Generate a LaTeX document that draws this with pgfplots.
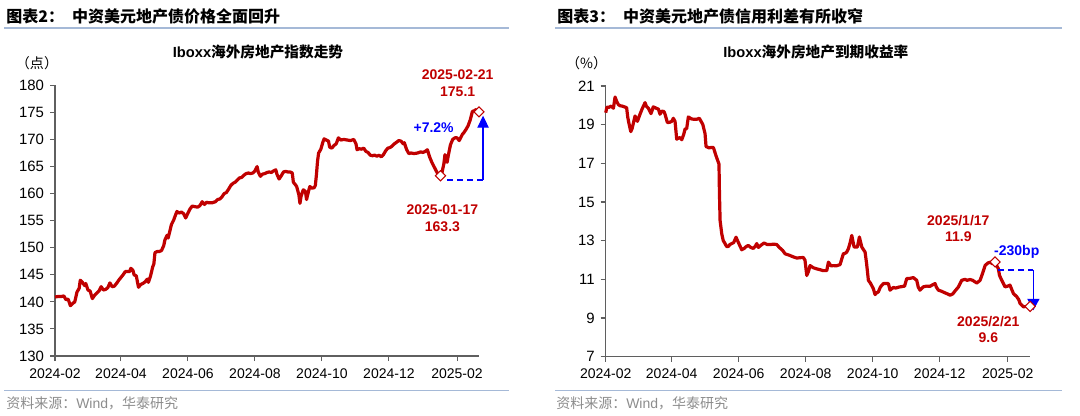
\documentclass[border=0pt]{standalone}
\usepackage{fontspec}
\setmainfont{Liberation Sans}
\newfontfamily\cjk{Noto Sans CJK SC}
\usepackage{pgfplots}
\pgfplotsset{compat=1.18}
\usetikzlibrary{arrows.meta}
\definecolor{lred}{RGB}{192,0,0}
\definecolor{hline}{RGB}{165,185,215}
\definecolor{axgray}{RGB}{95,95,95}
\definecolor{srcgray}{RGB}{140,140,140}
\definecolor{ablue}{RGB}{0,0,255}
\tikzset{alab/.style={font=\fontsize{10.5}{12.5}\selectfont\bfseries, align=center, inner sep=0pt}}
\pgfplotsset{
  /pgf/number format/assume math mode=true,
  myaxis/.style={
    width=318pt, height=203pt, scale only axis,
    anchor=south west,
    axis x line=bottom, axis y line=left,
    axis line style={axgray, line width=0.8pt, -},
    tick style={axgray, line width=0.8pt},
    tick align=outside, major tick length=3.75pt,
    xmin=0, xmax=386,
    xtick={0,60,121,182,243,304,366},
    xticklabels={2024-02,2024-04,2024-06,2024-08,2024-10,2024-12,2025-02},
    xticklabel style={font=\fontsize{10.5}{12}\selectfont, yshift=-2pt},
    yticklabel style={font=\fontsize{11.2}{13}\selectfont, xshift=-1pt},
    clip=false,
  },
  redline/.style={lred, line width=2.4pt, line join=round},
  dmark/.style={only marks, mark=square*, mark size=2.7pt, mark options={rotate=45, fill=white, draw=lred, line width=0.8pt}},
}
\begin{document}
\begin{tikzpicture}
\useasboundingbox (0,0) rectangle (810pt,311.25pt);
% ---------- left panel headers ----------
\node[anchor=west, inner sep=0pt] at (4.5pt,299.25pt) {\cjk\bfseries\fontsize{12}{14}\selectfont 图表2：\hspace{6pt}中资美元地产债价格全面回升};
\draw[hline, line width=1.1pt] (3pt,290.25pt) -- (381.75pt,290.25pt);
\node[inner sep=0pt] at (193.5pt,272.5pt) {\fontsize{11}{13}\selectfont\bfseries Iboxx{\cjk 海外房地产指数走势}};
\node[inner sep=0pt] at (27.75pt,263.5pt) {\cjk\fontsize{10.5}{12}\selectfont （点）};
\draw[hline, line width=1.1pt] (3pt,18.2pt) -- (381.75pt,18.2pt);
\node[anchor=west, inner sep=0pt, srcgray] at (4.5pt,9pt) {\fontsize{10.5}{12}\selectfont{\cjk 资料来源：}Wind{\cjk ，华泰研究}};
% ---------- right panel headers ----------
\node[anchor=west, inner sep=0pt] at (417.75pt,299.25pt) {\cjk\bfseries\fontsize{12}{14}\selectfont 图表3：\hspace{6pt}中资美元地产债信用利差有所收窄};
\draw[hline, line width=1.1pt] (416.25pt,290.25pt) -- (796.5pt,290.25pt);
\node[inner sep=0pt] at (611.9pt,272.5pt) {\fontsize{11}{13}\selectfont\bfseries Iboxx{\cjk 海外房地产到期收益率}};
\node[inner sep=0pt] at (440pt,263.5pt) {\cjk\fontsize{10.5}{12}\selectfont （\%）};
\draw[hline, line width=1.1pt] (416.25pt,18.2pt) -- (796.5pt,18.2pt);
\node[anchor=west, inner sep=0pt, srcgray] at (417pt,9pt) {\fontsize{10.5}{12}\selectfont{\cjk 资料来源：}Wind{\cjk ，华泰研究}};

% ---------- left axis ----------
\begin{axis}[myaxis, at={(41.25pt,44.25pt)},
  ymin=130, ymax=180, ytick={130,135,...,180}]
\addplot[redline] coordinates {
(0,140.9)(3,141.0)(6,141.0)(8,141.1)(10,140.4)(12,140.5)(14,139.3)(16,139.7)(18,140.0)
(20,141.8)(22,142.5)(23,144.0)(25,143.6)(27,143.0)(28,143.4)(30,142.2)(32,142.0)(34,140.6)
(36,141.2)(38,141.6)(40,142.0)(42,142.8)(44,142.2)(46,142.3)(48,142.6)(50,143.5)(52,142.8)
(54,142.9)(56,143.4)(58,144.0)(60,144.5)(62,145.0)(64,145.6)(66,145.6)(68,145.6)(69,146.2)
(71,145.8)(72,145.0)(74,144.8)(76,142.7)(78,143.2)(80,143.4)(82,143.7)(84,144.2)(85,143.6)
(87,144.8)(89,146.5)(90,147.0)(91,149.1)(93,149.3)(95,149.3)(97,149.5)(99,150.4)(100,151.4)
(102,152.3)(103,151.8)(104,152.6)(106,154.3)(108,155.1)(110,156.2)(111,156.7)(113,156.4)
(115,156.6)(117,156.3)(119,155.5)(121,156.4)(123,157.2)(125,157.7)(127,157.6)(130,157.5)
(132,157.8)(134,158.5)(136,158.0)(138,158.4)(140,158.3)(143,158.3)(146,158.5)(148,158.9)
(150,159.0)(152,159.4)(154,160.0)(156,160.2)(158,160.8)(160,161.5)(162,161.9)(164,162.1)
(166,162.5)(168,162.9)(170,163.0)(172,163.4)(174,163.7)(176,163.8)(178,163.7)(180,163.8)
(182,164.2)(184,165.0)(185,164.0)(187,163.2)(189,163.6)(191,163.7)(193,163.9)(195,164.0)
(197,163.9)(199,164.2)(201,164.4)(202,163.6)(204,162.7)(206,163.3)(208,164.0)(210,164.1)
(212,164.0)(214,164.0)(216,163.8)(217,162.1)(219,161.6)(220,161.3)(222,159.8)(223,158.2)
(224,159.5)(226,160.7)(228,160.4)(229,158.9)(231,160.6)(232,161.3)(234,161.0)(236,161.1)
(237,161.5)(238,163.5)(239,166.0)(240,167.5)(242,168.2)(244,169.6)(245,170.1)(247,169.9)
(249,169.7)(250,168.6)(252,168.4)(254,168.9)(256,169.2)(258,170.3)(260,169.9)(263,170.0)
(266,169.9)(269,169.8)(272,170.0)(274,169.2)(275,168.1)(277,168.3)(279,168.2)(281,168.4)
(283,167.8)(285,167.6)(287,167.1)(289,167.0)(291,167.1)(293,166.9)(295,167.1)(297,166.8)
(299,167.2)(301,167.9)(303,168.4)(305,168.5)(307,168.8)(309,169.2)(311,169.5)(313,169.8)
(315,169.7)(317,169.2)(318,169.4)(320,168.2)(322,167.4)(324,167.5)(327,167.4)(330,167.5)
(333,167.7)(335,167.6)(337,167.8)(339,168.1)(341,166.8)(343,165.8)(345,165.0)(347,164.2)
(349,163.5)(351,163.3)(352,163.6)(354,165.5)(355,167.2)(356,166.0)(357,165.8)(358,167.0)
(360,169.0)(362,170.0)(364,170.3)(366,170.3)(368,169.8)(369,170.2)(371,171.0)(372,171.2)
(374,171.8)(376,172.5)(378,173.6)(380,175.2)(382,175.3)(383,175.5)(384,175.2)(386,175.1)
};
\addplot[ablue, line width=1.5pt, dash pattern=on 4.5pt off 3pt] coordinates {(357.2,162.6)(389.7,162.6)};
\addplot[ablue, line width=0.9pt, -{Triangle[width=8.5pt,length=9pt]}] coordinates {(389.7,162.6)(389.7,174.4)};
\addplot[dmark] coordinates {(351,163.3)(386,175.1)};
\node[alab, lred] at (axis cs:366.6,180.4) {2025-02-21\\175.1};
\node[alab, lred] at (axis cs:352.7,155.5) {2025-01-17\\163.3};
\node[alab, ablue] at (axis cs:344.7,172.2) {+7.2\%};
\end{axis}

% ---------- right axis ----------
\begin{axis}[myaxis, at={(454.3pt,43.75pt)},
  ymin=7, ymax=21, ytick={7,9,...,21}]
\addplot[redline] coordinates {
(0,19.62)(1,19.9)(3,19.9)(5,19.96)(7,19.85)(8.5,20.43)(10,20.2)(11.5,20.04)(13,19.98)(15,19.96)
(17,19.92)(19,19.88)(20,19.4)(21,19.1)(22.8,18.64)(24,18.8)(26.7,19.45)(28.8,19.17)(31.2,19.54)
(33,19.8)(35.8,20.14)(37,19.95)(38.8,19.85)(41.2,19.57)(43.3,19.92)(46,19.85)(48,19.8)(49.4,19.54)
(51,19.7)(53,19.68)(54,19.54)(56.1,19.11)(58,19.12)(60.1,19.17)(61.5,19.33)(63.1,19.17)(64.6,18.25)
(66,18.3)(67.6,18.33)(69.2,18.22)(71,18.5)(72.2,18.77)(73.7,18.8)(75.2,19.4)(78,19.3)(80,19.28)
(82.8,19.28)(85.2,19.33)(88.3,19.02)(90.4,18.54)(91.3,17.87)(94,17.8)(96,17.82)(98,17.82)
(100.4,17.39)(103.1,16.96)(103.5,15.5)(104.1,14.04)(105.6,13.36)(107,13.0)(108.6,12.85)(110,12.7)
(111.6,12.7)(113,12.8)(114.7,12.85)(116.5,12.9)(118.6,13.18)(120,13.0)(122,12.75)(123.8,12.53)
(126,12.6)(128,12.7)(129.8,12.75)(132,12.65)(134.4,12.6)(136,12.7)(137.5,12.85)(139,12.65)
(141,12.75)(144.1,12.88)(147,12.8)(149.9,12.8)(153,12.82)(155.7,12.8)(158,12.65)(161,12.5)
(163.3,12.32)(167,12.25)(170.8,12.16)(174,12.1)(177,12.12)(179.9,12.13)(181.4,11.99)(183,11.2)
(184.5,11.4)(186,11.71)(189,11.6)(192.1,11.54)(195,11.5)(198,11.45)(201.2,11.45)(202.7,11.89)
(205,11.7)(207.2,11.71)(210,11.7)(213.3,11.76)(216.3,12.32)(218,12.35)(219.4,12.41)(221,12.6)
(222.5,12.9)(224,13.27)(226.1,12.67)(229.1,12.67)(230.9,13.19)(233.1,12.67)(236.1,12.41)
(237.5,11.8)(239.1,10.95)(241,10.8)(243.6,10.52)(245.2,10.21)(246.5,10.3)(248.2,10.35)(250,10.6)
(252.7,10.78)(255,10.78)(257.3,10.78)(258.8,10.44)(261.8,10.58)(264,10.55)(267,10.6)(270.9,10.64)
(272,10.64)(274,11.04)(277,11.05)(280,11.09)(283.1,10.95)(284.5,10.6)(286.1,10.44)(289.1,10.61)
(292,10.65)(295.2,10.64)(297,10.7)(299.8,10.78)(301,10.6)(302.8,10.44)(305,10.4)(308.9,10.3)
(311,10.25)(313.5,10.18)(316,10.25)(318,10.4)(321,10.6)(324.1,10.95)(327,11.0)(329,10.95)
(331.7,10.99)(334,10.95)(337.8,10.81)(340.8,10.95)(343,11.3)(345.4,11.72)(348,11.85)(350.3,11.89)
(352,11.8)(354.4,11.9)(356,11.7)(357.4,11.55)(358.5,11.2)(360.5,10.95)(363.5,10.61)(366,10.65)
(368,10.7)(371.1,10.27)(374.2,10.1)(376,9.95)(377.2,9.75)(380.2,9.58)(383,9.6)(384.8,9.58)(386.3,9.6)
};
\addplot[ablue, line width=1.5pt, dash pattern=on 4.5pt off 3pt] coordinates {(357.4,11.5)(389.3,11.5)};
\addplot[ablue, line width=0.9pt, -{Triangle[width=9pt,length=8.5pt]}] coordinates {(389.3,11.5)(389.3,9.4)};
\addplot[dmark] coordinates {(354.4,11.9)(386.3,9.6)};
\node[alab, lred] at (axis cs:321,13.63) {2025/1/17\\11.9};
\node[alab, ablue] at (axis cs:374.2,12.41) {-230bp};
\node[alab, lred] at (axis cs:348.3,8.40) {2025/2/21\\9.6};
\end{axis}
\end{tikzpicture}
\end{document}
